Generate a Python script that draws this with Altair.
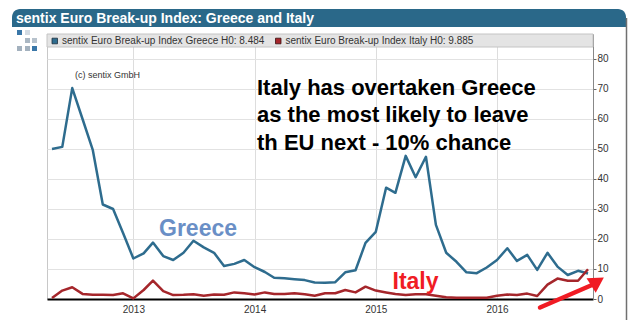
import altair as alt
import pandas as pd

# ---------------- data (monthly, May 2012 - Oct 2016) ----------------
first_month = "2012-05-01"
last_month = "2016-10-01"
greece = [
    50.0, 50.7, 70.3, 60.0, 49.6, 31.5, 30.0, 22.0,                    # 2012 May-Dec
    13.5, 15.2, 18.8, 14.3, 13.0, 15.4, 19.4, 17.2, 15.4, 11.0, 11.7, 13.0,  # 2013
    10.6, 9.0, 7.1, 6.9, 6.6, 6.3, 5.5, 5.4, 5.6, 8.9, 9.6, 18.7,       # 2014
    22.4, 37.1, 35.4, 47.7, 40.6, 47.4, 24.7, 15.4, 12.4, 8.9, 8.6, 10.5,  # 2015
    13.0, 16.9, 12.7, 14.7, 9.7, 15.4, 10.8, 8.0, 9.4, 8.5,             # 2016 Jan-Oct
]
italy = [
    0.3, 2.8, 3.9, 1.7, 1.4, 1.4, 1.3, 1.9,
    0.2, 3.0, 6.1, 2.6, 1.3, 1.4, 1.6, 1.1, 1.5, 1.4, 2.2, 1.9,
    1.5, 2.2, 1.7, 1.7, 1.9, 1.6, 1.1, 1.9, 1.9, 3.0, 2.2, 4.1,
    2.8, 2.2, 1.7, 1.3, 1.6, 1.6, 1.1, 0.6, 0.4, 0.4, 0.4, 0.4,
    1.1, 1.5, 1.3, 1.8, 1.0, 4.8, 6.8, 6.1, 6.1, 9.9,
]
series_names = ["Greece", "Italy"]
y_ticks = [0, 10, 20, 30, 40, 50, 60, 70, 80]

months = pd.date_range(first_month, last_month, freq="MS")
df = pd.DataFrame({
    "date": list(months) * 2,
    "value": greece + italy,
    "series": [series_names[0]] * len(greece) + [series_names[1]] * len(italy),
})

FONT = "Liberation Sans"
BLUE = "#2e6c8e"
DARKRED = "#a5262b"
RED = "#f01c24"

one = alt.Data(values=[{}])

x_scale = alt.Scale(domain=[alt.DateTime(year=2012, month=4, date=16),
                            alt.DateTime(year=2016, month=10, date=16)], nice=False)
y_scale = alt.Scale(domain=[0, 88.33], nice=False)

lines = alt.Chart(df).mark_line(strokeWidth=2.5, strokeJoin="round").encode(
    x=alt.X("date:T", scale=x_scale,
            axis=alt.Axis(title=None, format="%Y", tickCount={"interval": "year", "step": 1},
                          tickSize=0, labelPadding=5, labelFontSize=10, labelColor="#333333",
                          domainColor="#000000", domainWidth=2, grid=True, gridColor="#dddddd",
                          labelFont=FONT)),
    y=alt.Y("value:Q", scale=y_scale,
            axis=alt.Axis(title=None, orient="right", values=y_ticks, tickSize=3,
                          tickColor="#666666", domainColor="#888888", labelPadding=1,
                          labelFontSize=10, labelColor="#333333", grid=True,
                          gridColor="#e2e2e2", labelFont=FONT)),
    color=alt.Color("series:N", scale=alt.Scale(domain=series_names, range=[BLUE, DARKRED]),
                    legend=None),
)


def rect(x, x2, y, y2, fill, **kw):
    return alt.Chart(one).mark_rect(fill=fill, **kw).encode(
        x=alt.value(x), x2=alt.value(x2), y=alt.value(y), y2=alt.value(y2))


def text(x, y, s, size, color="#333333", weight="normal", **kw):
    return alt.Chart(one).mark_text(align="left", baseline="alphabetic", font=FONT,
                                    fontSize=size, fontWeight=weight, color=color, **kw).encode(
        x=alt.value(x), y=alt.value(y), text=alt.value(s))


layers = [lines]

# title bar
layers.append(rect(-35, 579, -25, -7, "#2a6889", cornerRadiusTopLeft=8, cornerRadiusTopRight=8))
layers.append(text(-31, -11, "sentix Euro Break-up Index: Greece and Italy", 14,
                   color="#ffffff", weight="bold"))
# frame right edge
layers.append(alt.Chart(one).mark_rule(stroke="#707070", strokeWidth=1.5).encode(
    x=alt.value(579.5), y=alt.value(-16), y2=alt.value(286)))

# icon
icon = [(17, 30, "#3a77a8"), (25, 30, "#d3dbe3"),
        (25, 38, "#aab7c3"), (32, 38, "#b7c2cc"),
        (17, 46, "#a3b1be"), (25, 46, "#a3b1be"), (32, 46, "#3a77a8")]
for ix, iy, c in icon:
    layers.append(rect(ix - 47, ix - 42, iy - 34, iy - 29, c))

# legend header
layers.append(rect(0, 546, 0, 13, "#e4e4e4", stroke="#c4c4c4", strokeWidth=1))
layers.append(rect(5, 10.5, 4.2, 9.8, BLUE, stroke="#1d2f3d", strokeWidth=0.8))
layers.append(text(15, 10.3, "sentix Euro Break-up Index Greece H0: 8.484", 10))
layers.append(rect(228.5, 234, 4.2, 9.8, DARKRED, stroke="#3a1010", strokeWidth=0.8))
layers.append(text(238.5, 10.3, "sentix Euro Break-up Index Italy H0: 9.885", 10))

# copyright
layers.append(text(28, 44, "(c) sentix GmbH", 9))

# annotations
layers.append(text(210, 60.5,
                   "Italy has overtaken Greece\nas the most likely to leave\nth EU next - 10% chance",
                   22, color="#000000", weight="bold", lineBreak="\n", lineHeight=27.5))
layers.append(text(112, 202, "Greece", 23, color="#6a8fc6", weight="bold"))
layers.append(text(345.5, 255.3, "Italy", 23, color=RED, weight="bold"))

# red arrow
layers.append(alt.Chart(one).mark_rule(stroke=RED, strokeWidth=4.5, strokeCap="round").encode(
    x=alt.value(493), y=alt.value(273.5), x2=alt.value(545), y2=alt.value(251)))
layers.append(alt.Chart(one).mark_point(shape="triangle-up", filled=True, size=300, angle=58,
                                        color=RED, opacity=1).encode(
    x=alt.value(550.5), y=alt.value(247.5)))

chart = alt.layer(*layers).properties(
    width=546, height=265,
    padding={"left": 47, "top": 34, "right": 37, "bottom": 28},
    autosize=alt.AutoSizeParams(type="none"),
    background="#ffffff",
).configure_view(stroke="#c8c8c8")

chart.save("out.html", embed_options={"renderer": "svg", "actions": False})
